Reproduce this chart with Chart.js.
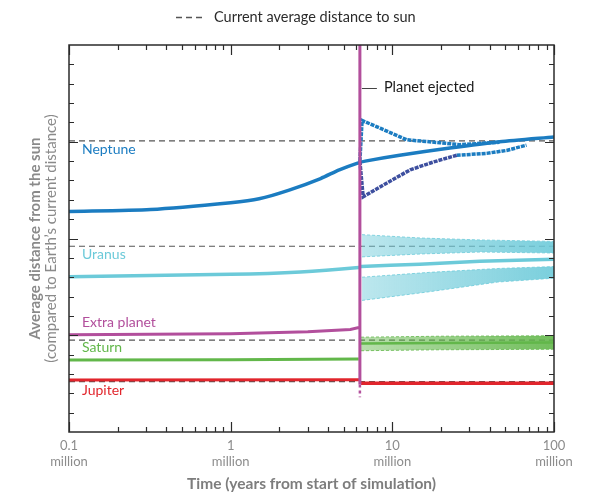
<!DOCTYPE html>
<html>
<head>
<meta charset="utf-8">
<script src="https://cdn.jsdelivr.net/npm/chart.js@4.4.0/dist/chart.umd.min.js"></script>
<style>
  html, body { margin: 0; padding: 0; background: #fff; }
  #wrap { width: 612px; height: 504px; }
</style>
</head>
<body>
<div id="wrap"><canvas id="chart" width="612" height="504"></canvas></div>
<script>
// time axis (millions of years, log) and distance axis (AU, no labels)
const timeTicks = [0.1, 0.2, 0.3, 0.4, 0.5, 0.6, 0.7, 0.8, 0.9,
  1, 2, 3, 4, 5, 6, 7, 8, 9,
  10, 20, 30, 40, 50, 60, 70, 80, 90, 100];
const majorTimes = [0.1, 1, 10, 100];
const majorTimeLabels = ["0.1", "1", "10", "100"];
const distTicks = [2, 4, 6, 8, 10, 12, 14, 16, 18, 20, 22, 24, 26, 28, 30, 32, 34, 36, 38];
const majorDists = [10, 20, 30];

// today's orbits (dashed lines)
const currentNames = ["Neptune", "Uranus", "Saturn", "Jupiter"];
const currentDistances = [30.1, 19.2, 9.5, 5.2];

const ejectionTime = 6.3;

// Neptune
const neptuneT = [0.1, 0.32, 1.0, 1.5, 2.3, 3.6, 4.7, 6.1, 6.8, 11.1, 22.7, 46, 100];
const neptuneD = [22.8, 23.0, 23.7, 24.1, 25.0, 26.2, 27.1, 27.8, 28.0, 28.6, 29.35, 30.0, 30.5];
const neptuneHighT = [6.3, 6.5, 8.4, 12.3, 19.7, 26.2, 46];
const neptuneHighD = [28.0, 32.2, 31.4, 30.2, 29.9, 29.7, 29.95];
const neptuneLowT = [6.3, 6.6, 8.75, 12.9, 17.9, 25.0];
const neptuneLowD = [28.0, 24.3, 25.5, 27.1, 27.9, 28.6];
const neptuneLowTailT = [25.0, 38.3, 50.9, 67.6];
const neptuneLowTailD = [28.6, 28.8, 29.1, 29.65];

// Uranus
const uranusT = [0.1, 1.0, 2.7, 6.2, 6.4, 14.8, 34.8, 100];
const uranusD = [16.05, 16.3, 16.55, 17.0, 17.1, 17.35, 17.65, 17.85];
const uranusOuterT = [6.5, 15, 35, 100];
const uranusOuterTop = [20.4, 20.05, 19.85, 19.7];
const uranusOuterBottom = [18.1, 18.4, 18.6, 18.5];
const uranusInnerT = [6.5, 17, 45, 100];
const uranusInnerTop = [16.0, 16.5, 16.9, 17.1];
const uranusInnerBottom = [13.6, 14.5, 15.5, 15.9];

// extra planet, thrown out at ~6.3 million years
const extraT = [0.1, 1.0, 3.0, 5.5, 6.2, 6.3, 6.3, 6.3];
const extraD = [10.05, 10.15, 10.35, 10.6, 10.8, 10.8, 4.9, 41];
const extraTailT = [6.3, 6.3];
const extraTailD = [4.9, 3.6];

// Saturn
const saturnT = [0.1, 1.0, 6.2];
const saturnD = [7.44, 7.46, 7.55];
const saturnAfterT = [6.4, 20, 100];
const saturnAfterD = [9.15, 9.2, 9.25];
const saturnTop = [9.8, 9.9, 9.95];
const saturnBottom = [8.4, 8.5, 8.55];

// Jupiter
const jupiterT = [0.1, 6.25];
const jupiterD = [5.37, 5.4];
const jupiterAfterT = [6.4, 100];
const jupiterAfterD = [5.05, 5.05];

// colours
const neptuneColor = "#1b7cc1";
const neptuneDeep = "#3d4f9f";
const uranusColor = "#6ccad9";
const extraColor = "#b24f9c";
const saturnColor = "#62b74a";
const jupiterColor = "#e1252c";
const refColor = "#555555";

const planetLabels = ["Neptune", "Uranus", "Extra planet", "Saturn", "Jupiter"];
const planetLabelColors = [neptuneColor, uranusColor, extraColor, saturnColor, jupiterColor];
const planetLabelAt = [29.15, 18.3, 11.3, 8.7, 4.25];

const FONT = "Lato, 'Open Sans', sans-serif";

function pts(xs, ys) {
  return xs.map((x, i) => ({ x: x, y: ys[i] }));
}

function rgba(hex, a) {
  const n = parseInt(hex.slice(1), 16);
  return `rgba(${(n >> 16) & 255},${(n >> 8) & 255},${n & 255},${a})`;
}

// band fill that gets denser with time, like the scattered oscillations
function bandFill(hex) {
  return (context) => {
    const chart = context.chart;
    const area = chart.chartArea;
    if (!area) return rgba(hex, 0.5);
    const x0 = chart.scales.x.getPixelForValue(ejectionTime);
    const g = chart.ctx.createLinearGradient(x0, 0, area.right, 0);
    g.addColorStop(0, rgba(hex, 0.45));
    g.addColorStop(1, rgba(hex, 0.9));
    return g;
  };
}

function isMajorTime(v) {
  return majorTimes.some((m) => Math.abs(m - v) < 1e-9);
}

function line(label, xs, ys, color, width, extra) {
  return Object.assign({
    label: label,
    data: pts(xs, ys),
    borderColor: color,
    backgroundColor: color,
    borderWidth: width,
    pointRadius: 0,
    fill: false,
    order: 1,
  }, extra || {});
}

const datasets = [];

// bands first (each top dataset fills to the next one)
datasets.push(line("Uranus outer top", uranusOuterT, uranusOuterTop, rgba(uranusColor, 0.8), 1,
  { fill: "+1", backgroundColor: bandFill(uranusColor), borderDash: [3, 2], order: 2 }));
datasets.push(line("Uranus outer bottom", uranusOuterT, uranusOuterBottom, rgba(uranusColor, 0.8), 1,
  { borderDash: [3, 2], order: 2 }));
datasets.push(line("Uranus inner top", uranusInnerT, uranusInnerTop, rgba(uranusColor, 0.8), 1,
  { fill: "+1", backgroundColor: bandFill(uranusColor), borderDash: [3, 2], order: 2 }));
datasets.push(line("Uranus inner bottom", uranusInnerT, uranusInnerBottom, rgba(uranusColor, 0.8), 1,
  { borderDash: [3, 2], order: 2 }));
datasets.push(line("Saturn top", saturnAfterT, saturnTop, rgba(saturnColor, 0.8), 1,
  { fill: "+1", backgroundColor: bandFill(saturnColor), borderDash: [3, 2], order: 2 }));
datasets.push(line("Saturn bottom", saturnAfterT, saturnBottom, rgba(saturnColor, 0.8), 1,
  { borderDash: [3, 2], order: 2 }));

// orbit tracks
datasets.push(line("Neptune high", neptuneHighT, neptuneHighD, neptuneColor, 3.5, { borderDash: [4, 1] }));
datasets.push(line("Neptune low", neptuneLowT, neptuneLowD, neptuneDeep, 3.5, { borderDash: [4, 1] }));
datasets.push(line("Neptune low tail", neptuneLowTailT, neptuneLowTailD, neptuneColor, 3.5, { borderDash: [4, 1] }));
datasets.push(line("Neptune", neptuneT, neptuneD, neptuneColor, 3.5, { tension: 0.25 }));
datasets.push(line("Uranus", uranusT, uranusD, uranusColor, 3.5, { tension: 0.2 }));
datasets.push(line("Saturn", saturnT, saturnD, saturnColor, 3));
datasets.push(line("Saturn after", saturnAfterT, saturnAfterD, saturnColor, 2.5));
datasets.push(line("Jupiter", jupiterT, jupiterD, jupiterColor, 3));
datasets.push(line("Jupiter after", jupiterAfterT, jupiterAfterD, jupiterColor, 3.5));
datasets.push(line("Extra planet", extraT, extraD, extraColor, 3, { order: 0 }));
datasets.push(line("Extra planet tail", extraTailT, extraTailD, extraColor, 2.5, { borderDash: [3, 3], order: 0 }));

// current orbits, behind everything
currentDistances.forEach((d, i) => {
  datasets.push(line("Current " + currentNames[i], [0.1, 100], [d, d], refColor, 1.2,
    { borderDash: [6, 4], order: 5 }));
});

const frame = {
  id: "frame",
  afterDatasetsDraw(chart) {
    const { ctx, chartArea: a, scales: { x, y } } = chart;
    ctx.save();
    ctx.strokeStyle = "#2b2b2b";
    ctx.lineWidth = 1.2;
    // inward ticks on all four sides
    ctx.beginPath();
    timeTicks.forEach((v) => {
      const px = Math.round(x.getPixelForValue(v)) + 0.5;
      const len = isMajorTime(v) ? 10 : 5;
      ctx.moveTo(px, a.bottom);
      ctx.lineTo(px, a.bottom - len);
      ctx.moveTo(px, a.top);
      ctx.lineTo(px, a.top + len);
    });
    distTicks.forEach((v) => {
      const py = Math.round(y.getPixelForValue(v)) + 0.5;
      const len = majorDists.includes(v) ? 9 : 5;
      ctx.moveTo(a.left, py);
      ctx.lineTo(a.left + len, py);
      ctx.moveTo(a.right, py);
      ctx.lineTo(a.right - len, py);
    });
    ctx.stroke();
    ctx.lineWidth = 1.5;
    ctx.strokeRect(a.left, a.top, a.right - a.left, a.bottom - a.top);

    // planet names
    ctx.font = "14px " + FONT;
    ctx.textBaseline = "middle";
    ctx.textAlign = "left";
    planetLabels.forEach((t, i) => {
      ctx.fillStyle = planetLabelColors[i];
      ctx.fillText(t, a.left + 13, y.getPixelForValue(planetLabelAt[i]));
    });

    // ejection note
    const ex = x.getPixelForValue(ejectionTime);
    const ey = y.getPixelForValue(35.6);
    ctx.strokeStyle = "#444";
    ctx.lineWidth = 1;
    ctx.beginPath();
    ctx.moveTo(ex + 2, Math.round(ey) + 0.5);
    ctx.lineTo(ex + 17, Math.round(ey) + 0.5);
    ctx.stroke();
    ctx.fillStyle = "#1a1a1a";
    ctx.font = "14.5px " + FONT;
    ctx.fillText("Planet ejected", ex + 24, ey);

    // legend
    ctx.strokeStyle = refColor;
    ctx.lineWidth = 1.5;
    ctx.setLineDash([6, 4]);
    ctx.beginPath();
    ctx.moveTo(176, 17.5);
    ctx.lineTo(205, 17.5);
    ctx.stroke();
    ctx.setLineDash([]);
    ctx.fillStyle = "#2b2b2b";
    ctx.font = "14.5px " + FONT;
    ctx.fillText("Current average distance to sun", 214, 17);

    // y axis title
    const cy = (a.top + a.bottom) / 2;
    ctx.translate(35, cy);
    ctx.rotate(-Math.PI / 2);
    ctx.textAlign = "center";
    ctx.fillStyle = "#8a8a8a";
    ctx.font = "bold 15px " + FONT;
    ctx.fillText("Average distance from the sun", 0, 0);
    ctx.font = "15px " + FONT;
    ctx.fillText("(compared to Earth\u2019s current distance)", 0, 16);
    ctx.restore();
  },
};

new Chart(document.getElementById("chart"), {
  type: "line",
  data: { datasets: datasets },
  options: {
    responsive: false,
    animation: false,
    devicePixelRatio: 1,
    layout: { padding: { left: 69, right: 58, top: 45, bottom: 0 } },
    plugins: { legend: { display: false }, tooltip: { enabled: false } },
    elements: { line: { tension: 0 } },
    scales: {
      x: {
        type: "logarithmic",
        min: 0.1,
        max: 100,
        afterBuildTicks: (s) => { s.ticks = timeTicks.map((v) => ({ value: v })); },
        afterFit: (s) => { s.height = 72; },
        grid: { display: false, drawTicks: false },
        border: { display: false },
        ticks: {
          autoSkip: false,
          maxRotation: 0,
          padding: 6,
          color: "#8c8c8c",
          font: { family: FONT, size: 13 },
          callback: (v) => {
            const i = majorTimes.findIndex((m) => Math.abs(m - v) < 1e-9);
            return i < 0 ? "" : [majorTimeLabels[i], "million"];
          },
        },
        title: {
          display: true,
          text: "Time (years from start of simulation)",
          color: "#7d7d7d",
          font: { family: FONT, size: 15.5, weight: "bold" },
          padding: { top: 0, bottom: 11 },
        },
      },
      y: {
        type: "linear",
        min: 0,
        max: 40,
        display: false,
      },
    },
  },
  plugins: [frame],
});
</script>
</body>
</html>
